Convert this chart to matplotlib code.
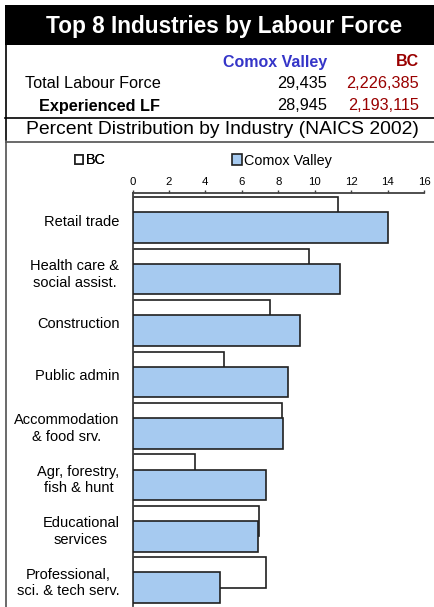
import matplotlib.pyplot as plt
import numpy as np
from matplotlib.patches import Rectangle

plt.rcParams['font.family'] = ['Liberation Sans', 'DejaVu Sans']

industries = [
    "Retail trade",
    "Health care &\nsocial assist.",
    "Construction",
    "Public admin",
    "Accommodation\n& food srv.",
    "Agr, forestry,\nfish & hunt",
    "Educational\nservices",
    "Professional,\nsci. & tech serv.",
]
bc_pct = [11.3, 9.7, 7.55, 5.0, 8.2, 3.45, 6.95, 7.35]
comox_pct = [14.05, 11.4, 9.2, 8.55, 8.25, 7.35, 6.9, 4.8]

regions = ["Comox Valley", "BC"]
total_lf = ["29,435", "2,226,385"]
experienced_lf = ["28,945", "2,193,115"]
xticks = [0, 2, 4, 6, 8, 10, 12, 14, 16]

W, H = 434, 607
BLUE_TXT = "#3535c8"
RED_TXT = "#990000"
BAR_BLUE = "#a6caf0"

fig = plt.figure(figsize=(W / 100, H / 100), dpi=100)

# background axes in pixel units for the header table
bg = fig.add_axes([0, 0, 1, 1])
bg.set_xlim(0, W)
bg.set_ylim(H, 0)
bg.axis("off")

bg.add_patch(Rectangle((5, 5), W - 5, 40, color="black", lw=0))
bg.text(224, 27, "Top 8 Industries by Labour Force", color="white",
        fontsize=16.3, fontweight="bold", ha="center", va="center")

bg.plot([6, 6], [45, 140], color="black", lw=1.2)
bg.plot([5, W], [118, 118], color="black", lw=1.2)
bg.plot([5.7, W], [142, 142], color="#505050", lw=1.2)
bg.plot([5.7, 5.7], [142, H], color="#505050", lw=1.2)

col_x = [327, 419]
col_colors = ["black", RED_TXT]
bg.text(col_x[0], 62, regions[0], color=BLUE_TXT, fontsize=11.5,
        fontweight="bold", ha="right", va="center")
bg.text(col_x[1], 62, regions[1], color=RED_TXT, fontsize=11.5,
        fontweight="bold", ha="right", va="center")

bg.text(25, 84, "Total Labour Force", fontsize=11.7, ha="left", va="center")
bg.text(39, 106, "Experienced LF", fontsize=11.7, fontweight="bold",
        ha="left", va="center")
for i in range(2):
    bg.text(col_x[i], 84, total_lf[i], color=col_colors[i], fontsize=11.7,
            ha="right", va="center")
    bg.text(col_x[i], 106, experienced_lf[i], color=col_colors[i],
            fontsize=11.7, ha="right", va="center")

bg.text(222, 130, "Percent Distribution by Industry (NAICS 2002)",
        fontsize=13.9, ha="center", va="center")

# bar chart
ax_top, ax_bot = 193, 605.8
ax = fig.add_axes([132.5 / W, 1 - ax_bot / H, 291.5 / W, (ax_bot - ax_top) / H])

y = np.arange(len(industries))
h = 0.593
off = 0.148
b1 = ax.barh(y - off, bc_pct, height=h, color="white", edgecolor="#202020",
             lw=1.2, label="BC", zorder=2)
b2 = ax.barh(y + off, comox_pct, height=h, color=BAR_BLUE, edgecolor="#202020",
             lw=1.2, label="Comox Valley", zorder=3)

ax.set_xlim(0, 16)
ax.set_ylim(7.5, -0.527)
ax.set_xticks(xticks)
ax.xaxis.tick_top()
ax.tick_params(axis="x", direction="out", length=2.2, width=1, pad=2.2,
               labelsize=8.2, color="#404040")
ax.set_yticks(y)
ax.set_yticklabels(industries, fontsize=10.5, linespacing=1.25,
                   multialignment="center")
ax.tick_params(axis="y", length=0, pad=9.4)

for s in ["right", "bottom"]:
    ax.spines[s].set_visible(False)
ax.spines["top"].set_color("#404040")
ax.spines["left"].set_color("#404040")
ax.spines["top"].set_linewidth(1.3)
ax.spines["left"].set_linewidth(1.3)

leg_kw = dict(frameon=False, fontsize=10.4, loc="center left",
              borderpad=0, borderaxespad=0)
leg1 = fig.legend(handles=[b1], bbox_to_anchor=(75 / W, 1 - 160.5 / H),
                  handlelength=0.55, handleheight=0.55, handletextpad=0.18,
                  **leg_kw)
fig.add_artist(leg1)
fig.legend(handles=[b2], bbox_to_anchor=(231.5 / W, 1 - 160.5 / H),
           handlelength=0.74, handleheight=0.74, handletextpad=0.1, **leg_kw)

fig.savefig("out.png", dpi=100)
